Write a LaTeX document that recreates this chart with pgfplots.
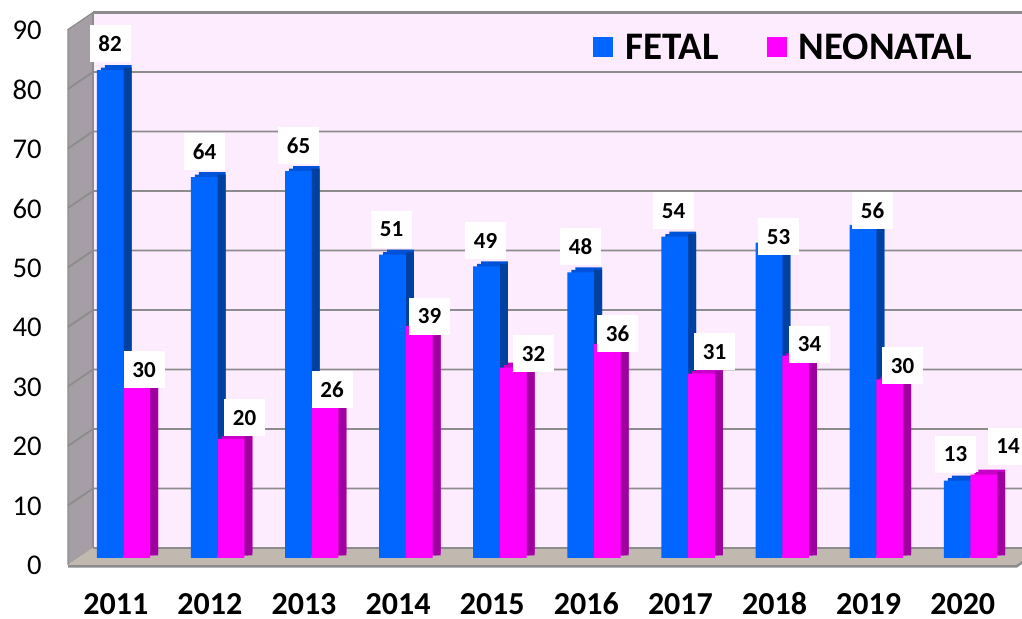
\documentclass[border=0pt]{standalone}
\usepackage{pgfplots}
\pgfplotsset{compat=1.18}
\usepackage{fontspec}
\setmainfont{Carlito}
\definecolor{fetF}{HTML}{0066FF}
\definecolor{fetS}{HTML}{0040A0}
\definecolor{fetT}{HTML}{0052D8}
\definecolor{neoF}{HTML}{FF00FF}
\definecolor{neoS}{HTML}{A000A0}
\definecolor{neoT}{HTML}{C800C8}
\definecolor{wallB}{RGB}{253,236,253}
\definecolor{wallL}{RGB}{165,158,165}
\definecolor{floorC}{RGB}{193,184,175}
\definecolor{gridC}{RGB}{140,140,140}
\begin{document}
\begin{tikzpicture}
\useasboundingbox (0,0) rectangle (511pt,309.5pt);
\begin{axis}[
  at={(33.52pt,24.55pt)}, anchor=south west,
  scale only axis, width=477.6pt, height=281.14pt,
  xmin=-0.6, xmax=9.55, ymin=-2, ymax=92.5,
  clip=false,
  axis line style={draw=none},
  major tick length=0pt,
  /pgf/number format/assume math mode=true,
  xtick={-0.082,0.918,1.918,2.918,3.918,4.918,5.918,6.918,7.918,8.918},
  xticklabels={2011,2012,2013,2014,2015,2016,2017,2018,2019,2020},
  xticklabel style={anchor=center, inner sep=0pt, yshift=-17pt, font=\bfseries\fontsize{16}{18}\selectfont},
  ytick={-1.3,8.7,18.7,28.7,38.7,48.7,58.7,68.7,78.7,88.7},
  yticklabels={0,10,20,30,40,50,60,70,80,90},
  yticklabel style={inner sep=0pt, xshift=-12.5pt, font=\fontsize{14.3}{16}\selectfont},
  legend columns=2,
  legend style={at={(0.5507,0.9308)}, anchor=west, draw=none, fill=none, inner sep=0pt,
    font=\bfseries\fontsize{19.5}{21}\selectfont,
    /tikz/every even column/.append style={column sep=24pt},
    nodes={inner sep=0pt, text depth=0pt}},
  legend image code/.code={\fill[#1] (0pt,-5pt) rectangle (10pt,5pt); \path (16pt,0);},
]
% back wall
\fill[wallB] (axis cs:-0.3241,1.68) rectangle (axis cs:9.7,91.68);
% left wall
\fill[wallL] (axis cs:-0.5898,-1.176) -- (axis cs:-0.3241,1.68) -- (axis cs:-0.3241,91.68) -- (axis cs:-0.5898,88.82) -- cycle;
\draw[gridC, line width=0.6pt] (axis cs:-0.5898,-1.176) -- (axis cs:-0.5898,88.82) -- (axis cs:-0.3241,91.68);
% floor
\fill[floorC] (axis cs:-0.5898,-1.176) -- (axis cs:-0.3241,1.68) -- (axis cs:9.75,1.68) -- (axis cs:9.49,-1.176) -- cycle;
\draw[gridC, line width=1.2pt] (axis cs:-0.5898,-1.4) -- (axis cs:9.49,-1.4) -- (axis cs:9.75,1.5);
% grid lines
\draw[gridC, line width=0.9pt] (axis cs:-0.5898,8.824) -- (axis cs:-0.3241,11.68) -- (axis cs:9.7,11.68);
\draw[gridC, line width=0.9pt] (axis cs:-0.5898,18.824) -- (axis cs:-0.3241,21.68) -- (axis cs:9.7,21.68);
\draw[gridC, line width=0.9pt] (axis cs:-0.5898,28.824) -- (axis cs:-0.3241,31.68) -- (axis cs:9.7,31.68);
\draw[gridC, line width=0.9pt] (axis cs:-0.5898,38.824) -- (axis cs:-0.3241,41.68) -- (axis cs:9.7,41.68);
\draw[gridC, line width=0.9pt] (axis cs:-0.5898,48.824) -- (axis cs:-0.3241,51.68) -- (axis cs:9.7,51.68);
\draw[gridC, line width=0.9pt] (axis cs:-0.5898,58.824) -- (axis cs:-0.3241,61.68) -- (axis cs:9.7,61.68);
\draw[gridC, line width=0.9pt] (axis cs:-0.5898,68.824) -- (axis cs:-0.3241,71.68) -- (axis cs:9.7,71.68);
\draw[gridC, line width=0.9pt] (axis cs:-0.5898,78.824) -- (axis cs:-0.3241,81.68) -- (axis cs:9.7,81.68);
\draw[gridC, line width=0.9pt] (axis cs:-0.3241,1.68) -- (axis cs:9.7,1.68);
\draw[gridC, line width=1.2pt] (axis cs:-0.3241,91.68) -- (axis cs:9.7,91.68);
\draw[gridC, line width=0.9pt] (axis cs:-0.3241,1.68) -- (axis cs:-0.3241,91.68);

% FETAL
\addplot[ybar, bar width=13.35pt, bar shift=-6.675pt, fill=fetT, draw=none, xshift=4pt, yshift=2.5pt, forget plot]
  coordinates {(0,82)(1,64)(2,65)(3,51)(4,49)(5,48)(6,54)(7,53)(8,56)(9,13)};
\addplot[ybar, bar width=13.35pt, bar shift=-6.675pt, fill=fetT, draw=none, xshift=2pt, yshift=1.25pt, forget plot]
  coordinates {(0,82)(1,64)(2,65)(3,51)(4,49)(5,48)(6,54)(7,53)(8,56)(9,13)};
\addplot[ybar, bar width=4pt, bar shift=2pt, fill=fetS, draw=none, yshift=1.25pt, forget plot]
  coordinates {(0,82)(1,64)(2,65)(3,51)(4,49)(5,48)(6,54)(7,53)(8,56)(9,13)};
\addplot[ybar, bar width=13.35pt, bar shift=-6.675pt, fill=fetF, draw=none]
  coordinates {(0,82)(1,64)(2,65)(3,51)(4,49)(5,48)(6,54)(7,53)(8,56)(9,13)};
\addlegendentry{FETAL}
% NEONATAL
\addplot[ybar, bar width=13.35pt, bar shift=6.675pt, fill=neoT, draw=none, xshift=4pt, yshift=2.5pt, forget plot]
  coordinates {(0,30)(1,20)(2,26)(3,39)(4,32)(5,36)(6,31)(7,34)(8,30)(9,14)};
\addplot[ybar, bar width=13.35pt, bar shift=6.675pt, fill=neoT, draw=none, xshift=2pt, yshift=1.25pt, forget plot]
  coordinates {(0,30)(1,20)(2,26)(3,39)(4,32)(5,36)(6,31)(7,34)(8,30)(9,14)};
\addplot[ybar, bar width=4pt, bar shift=15.35pt, fill=neoS, draw=none, yshift=1.25pt, forget plot]
  coordinates {(0,30)(1,20)(2,26)(3,39)(4,32)(5,36)(6,31)(7,34)(8,30)(9,14)};
\addplot[ybar, bar width=13.35pt, bar shift=6.675pt, fill=neoF, draw=none]
  coordinates {(0,30)(1,20)(2,26)(3,39)(4,32)(5,36)(6,31)(7,34)(8,30)(9,14)};
\addlegendentry{NEONATAL}

% value labels
\addplot[draw=none, mark=none, forget plot, nodes near coords, point meta=explicit symbolic,
  every node near coord/.append style={anchor=center, fill=white, inner sep=0pt,
    minimum width=20.5pt, minimum height=18.5pt, font=\bfseries\fontsize{11.5}{12}\selectfont}]
  table[meta=lab] {
x y lab
-0.1435 86.39 82
0.861 68.32 64
1.860 69.33 65
2.848 55.21 51
3.847 53.28 49
4.857 52.27 48
5.845 58.32 54
6.961 53.95 53
7.960 58.32 56
8.842 17.39 13
0.218 31.60 30
1.286 23.53 20
2.216 28.24 26
3.252 40.67 39
4.357 34.29 32
5.250 37.65 36
6.281 34.62 31
7.290 35.88 34
8.278 32.27 30
9.400 18.74 14
};
\end{axis}
\end{tikzpicture}
\end{document}
